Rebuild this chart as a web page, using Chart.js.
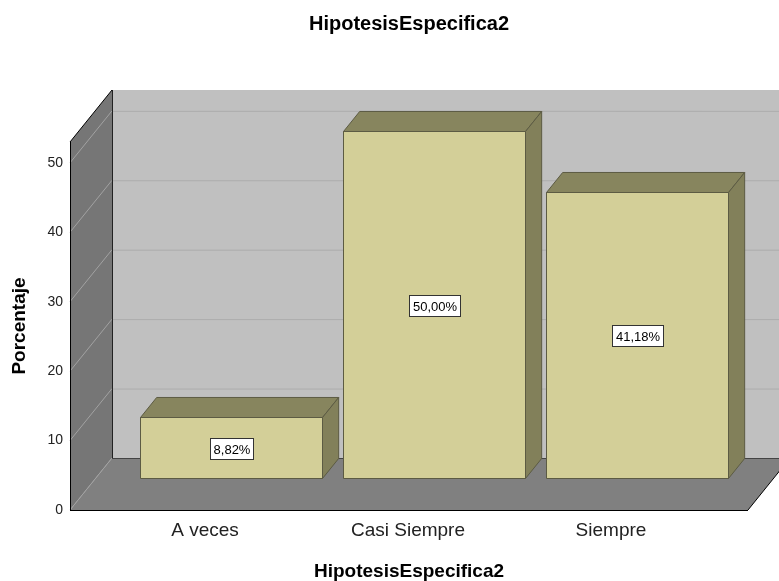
<!DOCTYPE html>
<html>
<head>
<meta charset="utf-8">
<script src="https://cdn.jsdelivr.net/npm/chart.js@4.4.1/dist/chart.umd.min.js"></script>
<style>
  html, body { margin: 0; padding: 0; background: #fff; }
  #wrap { width: 779px; height: 581px; }
</style>
</head>
<body>
<div id="wrap"><canvas id="c"></canvas></div>
<script>
// Data
const categories = ['A veces', 'Casi Siempre', 'Siempre'];
const percentages = [8.82, 50.00, 41.18];
const yTickValues = [0, 10, 20, 30, 40, 50];
const yMax = 53;

// 3D look (SPSS style box)
const DEPTH_X = 42, DEPTH_Y = 52;   // wall depth in px
const BAR_FRONT = 0.615;            // bars start this far back into the box

const FONT = "'Liberation Sans', Arial, sans-serif";

function poly(ctx, pts, fill, stroke){
  ctx.beginPath();
  ctx.moveTo(pts[0][0], pts[0][1]);
  for (let i = 1; i < pts.length; i++) ctx.lineTo(pts[i][0], pts[i][1]);
  ctx.closePath();
  if (fill){ ctx.fillStyle = fill; ctx.fill(); }
  if (stroke){ ctx.strokeStyle = stroke; ctx.lineWidth = 1; ctx.stroke(); }
}
function line(ctx, x1, y1, x2, y2, color){
  ctx.beginPath();
  ctx.moveTo(x1, y1); ctx.lineTo(x2, y2);
  ctx.strokeStyle = color; ctx.lineWidth = 1; ctx.stroke();
}

const box3d = {
  id: 'box3d',
  beforeDatasetsDraw(chart){
    const { ctx, chartArea: a, scales: { y } } = chart;
    const dx = DEPTH_X, dy = DEPTH_Y;
    const far = chart.width + 10;
    ctx.save();
    // back wall, left wall, floor
    poly(ctx, [[a.left+dx, a.top-dy], [far, a.top-dy], [far, a.bottom-dy], [a.left+dx, a.bottom-dy]], '#c0c0c0');
    poly(ctx, [[a.left, a.top], [a.left+dx, a.top-dy], [a.left+dx, a.bottom-dy], [a.left, a.bottom]], '#767676');
    poly(ctx, [[a.left, a.bottom], [a.right, a.bottom], [a.right+dx, a.bottom-dy], [a.left+dx, a.bottom-dy]], '#808080');

    // grid lines on back wall and left wall
    y.ticks.forEach(t => {
      const py = y.getPixelForValue(t.value);
      if (t.value > 0) line(ctx, a.left+dx, py-dy + 0.5, far, py-dy + 0.5, '#acacac');
      line(ctx, a.left, py, a.left+dx, py-dy, '#a2a2a2');
    });

    // edges
    line(ctx, a.left+dx+0.5, a.top-dy, a.left+dx+0.5, a.bottom-dy, '#222');
    line(ctx, a.left+dx, a.bottom-dy+0.5, far, a.bottom-dy+0.5, '#444');
    line(ctx, a.left+0.5, a.top, a.left+0.5, a.bottom, '#000');
    line(ctx, a.left, a.top, a.left+dx, a.top-dy, '#000');
    line(ctx, a.left, a.bottom+0.5, a.right, a.bottom+0.5, '#000');
    line(ctx, a.right, a.bottom, a.right+dx, a.bottom-dy, '#000');
    ctx.restore();
  },
  afterDatasetsDraw(chart){
    const { ctx } = chart;
    const meta = chart.getDatasetMeta(0);
    const fx = DEPTH_X * BAR_FRONT, fy = DEPTH_Y * BAR_FRONT;
    const bx = DEPTH_X - fx, by = DEPTH_Y - fy;
    ctx.save();
    meta.data.forEach((bar, i) => {
      const p = bar.getProps(['x', 'y', 'base', 'width'], true);
      const l = Math.round(p.x - p.width/2 + fx) + 0.5;
      const r = Math.round(p.x + p.width/2 + fx) + 0.5;
      const t = Math.round(p.y - fy) + 0.5;
      const b = Math.round(p.base - fy) + 0.5;
      const edge = '#5c5b43';
      poly(ctx, [[l, t], [r, t], [r, b], [l, b]], '#d3cf98', edge);
      poly(ctx, [[l, t], [l+bx, t-by], [r+bx, t-by], [r, t]], '#87855e', edge);
      poly(ctx, [[r, t], [r+bx, t-by], [r+bx, b-by], [r, b]], '#82805a', edge);

      // value label
      const txt = percentages[i].toFixed(2).replace('.', ',') + '%';
      ctx.font = '13px ' + FONT;
      const w = Math.ceil(ctx.measureText(txt).width) + 6;
      const h = 21;
      const cx = (l + r) / 2, cy = (t + b) / 2;
      const bxl = Math.round(cx - w/2) + 0.5, byt = Math.round(cy - h/2) + 0.5;
      ctx.fillStyle = '#fff';
      ctx.fillRect(bxl, byt, w, h);
      ctx.strokeStyle = '#333'; ctx.lineWidth = 1;
      ctx.strokeRect(bxl, byt, w, h);
      ctx.fillStyle = '#000';
      ctx.textAlign = 'center'; ctx.textBaseline = 'middle';
      ctx.fillText(txt, bxl + w/2, byt + h/2 + 1);
    });
    ctx.restore();
  }
};

new Chart(document.getElementById('c'), {
  type: 'bar',
  data: {
    datasets: [{
      label: 'Porcentaje',
      data: percentages.map((v, i) => ({ x: i, y: v })),
      backgroundColor: 'rgba(0,0,0,0)',
      borderWidth: 0,
      barPercentage: 182 / 203,
      categoryPercentage: 1
    }]
  },
  options: {
    responsive: true,
    maintainAspectRatio: false,
    animation: false,
    events: [],
    layout: { padding: { left: 0, top: 0, bottom: 0, right: 31 } },
    plugins: {
      legend: { display: false },
      tooltip: { enabled: false },
      title: {
        display: true,
        text: 'HipotesisEspecifica2',
        fullSize: false,
        color: '#000',
        font: { family: FONT, size: 20, weight: 'bold' },
        padding: { top: 12, bottom: 106 }
      }
    },
    scales: {
      x: {
        type: 'linear',
        offset: false,
        min: -0.665,
        max: 2.675,
        afterBuildTicks: s => { s.ticks = categories.map((c, i) => ({ value: i })); },
        afterFit: s => { s.height = 71; },
        grid: { display: false, drawTicks: false, offset: false },
        border: { display: false },
        ticks: {
          callback: v => categories[v],
          color: '#222',
          padding: 9,
          font: { family: FONT, size: 19 }
        },
        title: {
          display: true,
          text: 'HipotesisEspecifica2',
          color: '#000',
          font: { family: FONT, size: 19, weight: 'bold', lineHeight: 1 },
          padding: 0
        }
      },
      y: {
        min: 0,
        max: yMax,
        afterBuildTicks: s => { s.ticks = yTickValues.map(v => ({ value: v })); },
        afterFit: s => { s.width = 70; },
        grid: { display: false, drawTicks: false },
        border: { display: false },
        ticks: {
          color: '#222',
          padding: 7,
          font: { family: FONT, size: 14 }
        },
        title: {
          display: true,
          text: 'Porcentaje',
          color: '#000',
          font: { family: FONT, size: 19, weight: 'bold', lineHeight: 1 },
          padding: { top: 10, bottom: 0 }
        }
      }
    }
  },
  plugins: [box3d]
});
</script>
</body>
</html>
